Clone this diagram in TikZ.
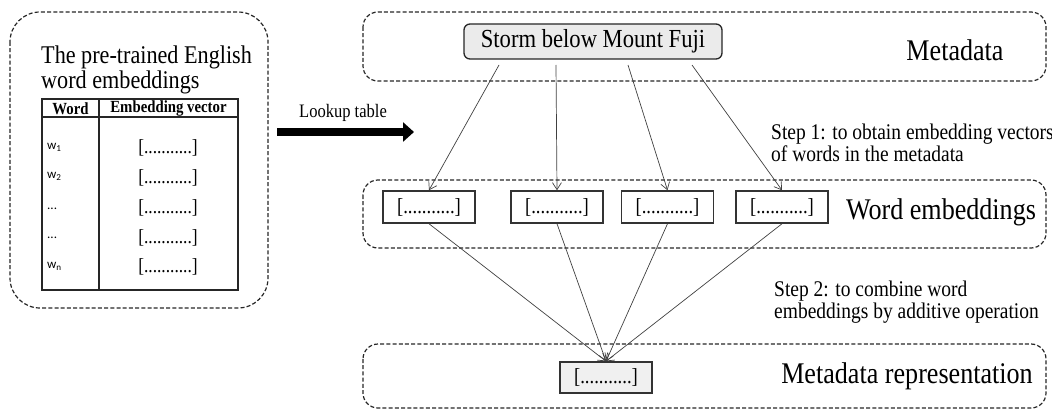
\documentclass[tikz,border=0pt]{standalone}
\usepackage{fontspec}
\setmainfont[FakeStretch=0.87]{Liberation Serif}
\newfontfamily\calfont{Carlito}
\usetikzlibrary{arrows.meta,calc}
\begin{document}
\begin{tikzpicture}[x=1pt,y=-1pt,
  grp/.style={draw=black!85, line width=1.2pt, dash pattern=on 4pt off 2.2pt, rounded corners=15pt},
  vecbox/.style={draw=black!80, line width=1.5pt, minimum width=92pt, minimum height=32pt, inner sep=0pt, font=\fontsize{21.5}{22}\selectfont},
  conn/.style={draw=black!75, line width=0.7pt, -{Straight Barb[length=7pt,width=9pt]}},
  lbl/.style={font=\fontsize{30}{30}\selectfont, inner sep=0pt},
  steptext/.style={font=\fontsize{22.4}{20}\selectfont, align=left, anchor=west, inner sep=0pt},
  tbl/.style={draw=black!85, line width=1.4pt},
  hdr/.style={font=\fontsize{17}{17}\selectfont\bfseries, inner sep=0pt},
  wrd/.style={font=\calfont\fontsize{13}{13}\selectfont, anchor=west, inner sep=0pt},
  vec/.style={font=\fontsize{20}{20}\selectfont, inner sep=0pt},
  ttl/.style={font=\fontsize{25.5}{25.5}\selectfont, anchor=base west, inner sep=0pt},
]
\useasboundingbox (0,0) rectangle (1052,409);

% left group
\draw[grp, rounded corners=30pt] (10,12) rectangle (268,308);
\node[ttl] (title1) at (41,64) {The pre-trained English};
\node[ttl] (title2) at (41,89) {word embeddings};
\draw[tbl] (42,99) rectangle (238,290);
\draw[tbl] (42,117) -- (238,117);
\draw[tbl] (99,99) -- (99,290);
\node[hdr] (hword) at (70.5,108.5) {Word};
\node[hdr] (hvec) at (168.5,108.5) {Embedding vector};
\node[wrd] (w1) at (47,147) {w\textsubscript{1}};
\node[wrd] (w2) at (47,176) {w\textsubscript{2}};
\node[wrd] (w3) at (47,209) {...};
\node[wrd] (w4) at (47,238) {...};
\node[wrd] (w5) at (47,266) {w\textsubscript{n}};
\node[vec] (v1) at (168,148) {[...........]};
\node[vec] (v2) at (168,178) {[...........]};
\node[vec] (v3) at (168,208) {[...........]};
\node[vec] (v4) at (168,238) {[...........]};
\node[vec] (v5) at (168,267) {[...........]};

% lookup arrow
\coordinate (la) at (277,132);
\coordinate (lb) at (414,132);
\draw[line width=8pt, -{Triangle[length=11pt,width=19pt]}] (la) -- (lb);
\node[font=\fontsize{19}{19}\selectfont, inner sep=0pt] (lookup) at (343,113) {Lookup table};

% right groups
\draw[grp] (363,12) rectangle (1046,81);
\draw[grp] (363,180) rectangle (1046,248);
\draw[grp] (363,344) rectangle (1046,408);

\node[draw=black!85, line width=1.3pt, fill=black!8, rounded corners=6pt,
  minimum width=258pt, minimum height=35pt, inner sep=0pt, font=\fontsize{26}{26}\selectfont]
  (storm) at (593,41.5) {Storm below Mount Fuji};
\node[lbl] (lmeta) at (955,50) {Metadata};

\node[vecbox] (e1) at (429,207) {[...........]};
\node[vecbox] (e2) at (557,207) {[...........]};
\node[vecbox] (e3) at (667.5,207) {[...........]};
\node[vecbox] (e4) at (782,207) {[...........]};
\node[lbl] (lword) at (941,212) {Word embeddings};

\node[vecbox, fill=black!6, minimum width=92pt, minimum height=31pt] (rep) at (606,377.5) {[...........]};
\node[lbl] (lrep) at (907,376) {Metadata representation};

\node[steptext] (step1) at (771,143) {Step 1: to obtain embedding vectors\\of words in the metadata};
\node[steptext] (step2) at (774,302) {Step 2: to combine word\\embeddings by additive operation};

\coordinate (s1) at (499,65);
\coordinate (s2) at (556,65);
\coordinate (s3) at (628,65);
\coordinate (s4) at (692,65);
\draw[conn] (s1) -- (e1.north);
\draw[conn] (s2) -- (e2.north);
\draw[conn] (s3) -- (e3.north);
\draw[conn] (s4) -- (e4.north);

\draw[conn] (e1.south) -- (rep.north);
\draw[conn] (e2.south) -- (rep.north);
\draw[conn] (e3.south) -- (rep.north);
\draw[conn] (e4.south) -- (rep.north);
\end{tikzpicture}
\end{document}
